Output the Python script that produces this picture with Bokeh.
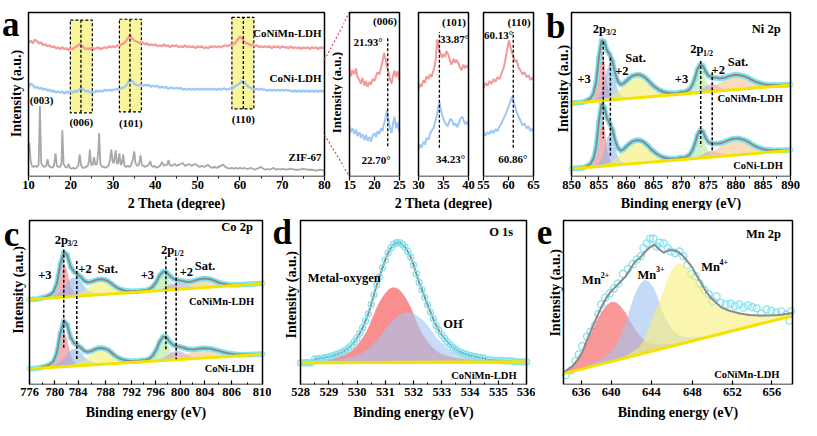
import numpy as np
from bokeh.plotting import figure
from bokeh.models import Range1d, Label, FixedTicker
from bokeh.layouts import row, column
from bokeh.embed import file_html
from bokeh.resources import INLINE

FONT = "Liberation Serif"

# ============================ DATA ============================
# ---- (a) XRD: LDH patterns sampled every 0.5 deg, 10..80 ----
xrd_two_theta = np.arange(10.0, 80.001, 0.5)
xrd_conimn = [139, 141, 138, 142, 140, 138, 139, 136, 137, 135,
              136, 134, 135, 133, 134, 132, 134, 132, 133, 131,
              133, 132, 134, 135, 137, 136, 134, 132, 133, 132,
              134, 132, 133, 134, 132, 133, 134, 133, 135, 134,
              135, 134, 136, 135, 137, 138, 140, 143, 147, 143,
              141, 140, 139, 138, 139, 137, 138, 136, 137, 136,
              137, 135, 136, 135, 137, 135, 136, 134, 136, 135,
              136, 134, 135, 134, 136, 134, 135, 134, 135, 133,
              135, 134, 135, 133, 134, 133, 135, 134, 135, 134,
              135, 134, 135, 136, 135, 136, 137, 137, 139, 142,
              145, 143, 140, 138, 138, 136, 137, 135, 136, 134,
              135, 134, 135, 134, 135, 133, 135, 134, 135, 133,
              135, 134, 134, 133, 135, 133, 134, 133, 134, 132,
              134, 133, 134, 132, 134, 133, 134, 132, 134, 133,
              134]
xrd_coni = [93, 96, 95, 92, 93, 91, 92, 90, 91, 89,
            90, 88, 89, 87, 88, 87, 88, 86, 88, 87,
            88, 87, 89, 88, 90, 92, 90, 88, 89, 87,
            88, 87, 89, 88, 89, 88, 90, 89, 90, 89,
            90, 90, 91, 90, 92, 92, 94, 97, 101, 99,
            96, 95, 94, 95, 94, 95, 94, 95, 93, 94,
            93, 94, 92, 93, 92, 93, 91, 92, 92, 91,
            92, 91, 92, 90, 91, 90, 91, 90, 91, 90,
            91, 90, 91, 90, 91, 90, 91, 90, 91, 90,
            91, 90, 91, 91, 90, 91, 92, 92, 94, 95,
            97, 99, 98, 95, 93, 92, 91, 90, 91, 90,
            91, 90, 90, 89, 90, 89, 90, 89, 90, 89,
            90, 89, 90, 89, 89, 88, 89, 88, 89, 88,
            89, 88, 89, 88, 89, 88, 89, 88, 89, 88,
            89]
zif67 = [(10.0, 30), (10.2, 35), (10.5, 16), (10.8, 11), (11.2, 10), (11.6, 11), (12.0, 10), (12.4, 12),
         (12.7, 73), (13.0, 14), (13.4, 11), (13.8, 10), (14.2, 11), (14.5, 18), (14.8, 11), (15.2, 10),
         (15.6, 9), (16.0, 11), (16.4, 24), (16.7, 11), (17.1, 10), (17.5, 10), (17.8, 14), (18.0, 48),
         (18.3, 13), (18.7, 10), (19.1, 9), (19.5, 13), (19.8, 9), (20.2, 8), (20.6, 9), (21.0, 8),
         (21.4, 9), (21.8, 12), (22.1, 23), (22.4, 12), (22.8, 9), (23.2, 9), (23.6, 10), (24.0, 11),
         (24.3, 16), (24.5, 28), (24.8, 12), (25.2, 12), (25.5, 20), (25.8, 12), (26.2, 13), (26.5, 25),
         (26.7, 45), (27.0, 13), (27.4, 10), (27.8, 10), (28.2, 9), (28.6, 10), (29.0, 12), (29.3, 18),
         (29.6, 28), (29.9, 15), (30.2, 14), (30.6, 27), (30.9, 13), (31.2, 14), (31.5, 24), (31.8, 12),
         (32.1, 14), (32.4, 23), (32.7, 11), (33.1, 10), (33.5, 11), (33.9, 10), (34.3, 12), (34.7, 18),
         (35.0, 26), (35.3, 14), (35.7, 11), (36.1, 12), (36.5, 22), (36.8, 12), (37.2, 11), (37.6, 10),
         (38.0, 11), (38.4, 12), (38.8, 16), (39.1, 11), (39.5, 10), (39.9, 11), (40.3, 9), (40.7, 10),
         (41.1, 11), (41.6, 15), (42.0, 11), (42.4, 12), (42.8, 12), (43.1, 17), (43.4, 12), (43.8, 11),
         (44.2, 12), (44.6, 13), (45.0, 11), (45.5, 12), (46.0, 13), (46.5, 14), (47.0, 11), (47.5, 12),
         (48.0, 13), (48.5, 11), (49.0, 12), (49.5, 13), (50.0, 11), (50.5, 10), (51.0, 11), (51.5, 10),
         (52.0, 11), (52.5, 12), (53.0, 10), (53.5, 9), (54.0, 10), (54.5, 9), (55.0, 10), (55.5, 11),
         (56.0, 12.5), (56.5, 10), (57.0, 9), (57.5, 8), (58.0, 9), (58.5, 8), (59.0, 9), (59.5, 8),
         (60.0, 9), (60.5, 8), (61.0, 9), (61.5, 8), (62.0, 8), (62.5, 9), (63.0, 8), (63.5, 7),
         (64.0, 8), (64.5, 9), (65.0, 10), (65.5, 8), (66.0, 7), (66.5, 8), (67.0, 7), (67.5, 8),
         (68.0, 9), (68.5, 7), (69.0, 8), (69.5, 7), (70.0, 8), (71.0, 7), (72.0, 8), (73.0, 7),
         (74.0, 7), (75.0, 8), (76.0, 7), (77.0, 7), (78.0, 6), (79.0, 7), (80.0, 6)]
xrd_box_left = [19.9, 31.5, 58.1]
xrd_box_right = [25.1, 36.7, 63.3]
xrd_box_bottom = [66, 67, 70]
xrd_box_top = [162, 163, 165]
xrd_peak_lines = [22.4, 34.0, 60.8]
xrd_peak_labels = ["(003)", "(006)", "(101)", "(110)"]
xrd_peak_label_x = [13.1, 22.5, 34.2, 60.8]
xrd_peak_label_y = [79, 56, 55, 60]

# ---- zoomed XRD windows ----
z1_conimn = [(15.0, 112), (15.3, 104), (15.6, 110), (16.0, 106), (16.3, 112), (16.6, 103), (17.0, 100),
             (17.3, 96), (17.6, 102), (18.0, 94), (18.3, 99), (18.6, 93), (19.0, 98), (19.3, 95),
             (19.6, 101), (20.0, 99), (20.3, 104), (20.6, 108), (21.0, 106), (21.3, 113), (21.6, 119),
             (21.9, 128), (22.2, 122), (22.5, 114), (22.8, 108), (23.1, 101), (23.4, 96), (23.7, 104),
             (24.0, 110), (24.3, 103), (24.6, 109), (25.0, 100)]
z1_coni = [(15.0, 52), (15.3, 46), (15.6, 50), (16.0, 44), (16.3, 49), (16.6, 42), (17.0, 46), (17.3, 40),
           (17.6, 44), (18.0, 38), (18.3, 43), (18.6, 37), (19.0, 41), (19.3, 36), (19.6, 42), (20.0, 45),
           (20.3, 41), (20.6, 47), (21.0, 44), (21.3, 50), (21.6, 47), (21.9, 55), (22.2, 60), (22.5, 69),
           (22.8, 58), (23.1, 50), (23.4, 45), (23.7, 55), (24.0, 62), (24.3, 50), (24.6, 56), (25.0, 46)]
z2_conimn = [(30.0, 90), (30.3, 96), (30.6, 93), (31.0, 100), (31.3, 97), (31.6, 104), (32.0, 101),
             (32.3, 106), (32.6, 103), (33.0, 110), (33.3, 116), (33.5, 124), (33.7, 142), (33.9, 138),
             (34.1, 132), (34.4, 128), (34.7, 123), (35.0, 127), (35.3, 124), (35.6, 130), (36.0, 126),
             (36.3, 120), (36.6, 116), (37.0, 122), (37.3, 118), (37.6, 121), (38.0, 117), (38.3, 113),
             (38.6, 110), (39.0, 116), (39.3, 112), (39.6, 115), (40.0, 113)]
z2_coni = [(30.0, 28), (30.3, 33), (30.6, 30), (31.0, 36), (31.3, 33), (31.6, 40), (32.0, 38), (32.3, 44),
           (32.6, 47), (33.0, 50), (33.3, 56), (33.6, 62), (33.9, 70), (34.2, 77), (34.5, 68), (34.8, 63),
           (35.1, 58), (35.4, 55), (35.8, 52), (36.1, 56), (36.4, 60), (36.8, 57), (37.1, 53), (37.4, 55),
           (37.8, 51), (38.1, 56), (38.4, 60), (38.8, 62), (39.1, 57), (39.4, 54), (39.7, 57), (40.0, 54)]
z3_conimn = [(55.0, 92), (55.4, 97), (55.8, 94), (56.2, 99), (56.6, 96), (57.0, 101), (57.4, 98),
             (57.8, 103), (58.2, 101), (58.6, 107), (59.0, 112), (59.3, 119), (59.6, 128), (59.9, 136),
             (60.1, 141), (60.4, 134), (60.7, 128), (61.0, 124), (61.3, 119), (61.6, 121), (62.0, 113),
             (62.4, 110), (62.8, 106), (63.2, 108), (63.6, 103), (64.0, 105), (64.4, 100), (64.8, 103),
             (65.0, 100)]
z3_coni = [(55.0, 47), (55.4, 42), (55.8, 46), (56.2, 44), (56.6, 48), (57.0, 45), (57.4, 49), (57.8, 47),
           (58.2, 52), (58.6, 55), (59.0, 60), (59.4, 64), (59.8, 70), (60.2, 75), (60.5, 80), (60.8, 83),
           (61.1, 76), (61.4, 71), (61.7, 66), (62.0, 62), (62.4, 58), (62.8, 53), (63.2, 55), (63.6, 50),
           (64.0, 52), (64.4, 47), (64.8, 50), (65.0, 47)]
zoom_peak_pos = [22.65, 34.18, 60.95]
zoom_line_bottom = [31.3, 29.7, 29.7]
zoom_line_top = [144.7, 149.7, 149.7]
zoom_hkl = ["(006)", "(101)", "(110)"]
zoom_top_angle = ["21.93\u00b0", "33.87\u00b0", "60.13\u00b0"]
zoom_bottom_angle = ["22.70\u00b0", "34.23\u00b0", "60.86\u00b0"]

# ---- (b) Ni 2p : fitted components (height above background), 0.5 eV steps ----
ni_start = {"red": 852.5, "blue": 853.0, "sat": 854.0, "green": 869.5, "purple": 870.5, "orange": 870.0}
ni_mn_bg = [76.0, 94.8]
ni_mn_red = [0.8, 1.4, 2.6, 5.7, 16.1, 39.5, 52, 39.5, 16.1, 5.7, 2.6, 1.4, 0.8]
ni_mn_blue = [0.6, 0.8, 1.3, 2.3, 4.2, 9.1, 19, 32.7, 38, 32.7, 19, 9.1, 4.2, 2.3, 1.3, 0.8, 0.6]
ni_mn_sat = [1.0, 1.2, 1.4, 1.7, 2.1, 2.6, 3.4, 4.6, 6.2, 8.4, 10.8, 13.7, 17, 19.9, 22.1, 23.5, 24,
             23.5, 22.1, 19.9, 17, 13.7, 10.8, 8.4, 6.2, 4.6, 3.4, 2.6, 2.1, 1.7, 1.4, 1.2, 1.0]
ni_mn_green = [0.4, 0.6, 0.9, 1.5, 2.8, 6, 12.5, 21.5, 25, 21.5, 12.5, 6, 2.8, 1.5, 0.9, 0.6, 0.4]
ni_mn_purple = [0.2, 0.3, 0.4, 0.6, 0.9, 1.4, 2.5, 4, 6.1, 7.4, 8, 7.4, 6.1, 4, 2.5, 1.4, 0.9, 0.6, 0.4, 0.3, 0.2]
ni_mn_orange = [0.5, 0.6, 0.7, 0.8, 0.9, 1.1, 1.4, 1.7, 2.0, 2.6, 3.3, 4.4, 5.4, 6.8, 8.4, 10.2, 11.9, 13.2,
                14.1, 14.8, 15, 14.8, 14.1, 13.2, 11.9, 10.2, 8.4, 6.8, 5.4, 4.4, 3.3, 2.6, 2.0, 1.7, 1.4,
                1.1, 0.9, 0.8, 0.7, 0.6, 0.5]
ni_co_bg = [8.0, 27.0]
ni_co_red = [0.8, 1.5, 2.8, 6.1, 17.1, 41.8, 55, 41.8, 17.1, 6.1, 2.8, 1.5, 0.8]
ni_co_blue = [0.5, 0.7, 1.2, 2.0, 3.7, 8.2, 17, 29.2, 34, 29.2, 17, 8.2, 3.7, 2.0, 1.2, 0.7, 0.5]
ni_co_sat = [1.0, 1.2, 1.4, 1.7, 2.1, 2.6, 3.4, 4.6, 6.2, 8.4, 10.8, 13.7, 17, 19.9, 22.1, 23.5, 24,
             23.5, 22.1, 19.9, 17, 13.7, 10.8, 8.4, 6.2, 4.6, 3.4, 2.6, 2.1, 1.7, 1.4, 1.2, 1.0]
ni_co_green = [0.4, 0.6, 0.9, 1.5, 2.8, 6, 12.5, 21.5, 25, 21.5, 12.5, 6, 2.8, 1.5, 0.9, 0.6, 0.4]
ni_co_purple = [0.2, 0.2, 0.3, 0.5, 0.7, 1.2, 2.0, 3.3, 4.9, 6.0, 6.5, 6.0, 4.9, 3.3, 2.0, 1.2, 0.7, 0.5,
                0.3, 0.2, 0.2]
ni_co_orange = [0.6, 0.7, 0.8, 0.9, 1.1, 1.3, 1.5, 1.9, 2.3, 2.9, 3.7, 4.9, 6.1, 7.7, 9.5, 11.6, 13.4, 15,
                16, 16.7, 17, 16.7, 16, 15, 13.4, 11.6, 9.5, 7.7, 6.1, 4.9, 3.7, 2.9, 2.3, 1.9, 1.5, 1.3,
                1.1, 0.9, 0.8, 0.7, 0.6]
ni_ticks = [850, 855, 860, 865, 870, 875, 880, 885, 890]

# ---- (c) Co 2p ----
co_start = {"red": 778.0, "blue": 777.5, "sat": 780.5, "green": 791.5, "purple": 792.5, "orange": 795.5}
co_mn_bg = [88.0, 104.7]
co_mn_red = [0.5, 1.0, 1.8, 4.0, 11.2, 27.4, 36, 27.4, 11.2, 4.0, 1.8, 1.0, 0.5]
co_mn_blue = [0.5, 0.7, 1.0, 1.5, 2.2, 3.6, 6.2, 10, 15.2, 18.6, 20, 18.6, 15.2, 10, 6.2, 3.6, 2.2, 1.5,
              1.0, 0.7, 0.5]
co_mn_sat = [0.5, 0.7, 0.9, 1.2, 1.7, 2.4, 3.6, 5.1, 7.5, 10.5, 12.9, 14.4, 15, 14.4, 12.9, 10.5, 7.5,
             5.1, 3.6, 2.4, 1.7, 1.2, 0.9, 0.7, 0.5]
co_mn_green = [0.3, 0.4, 0.6, 1.0, 1.9, 4.1, 8.5, 14.6, 17, 14.6, 8.5, 4.1, 1.9, 1.0, 0.6, 0.4, 0.3]
co_mn_purple = [0.2, 0.25, 0.35, 0.5, 0.8, 1.3, 2.2, 3.5, 5.3, 6.5, 7, 6.5, 5.3, 3.5, 2.2, 1.3, 0.8, 0.5,
                0.35, 0.25, 0.2]
co_mn_orange = [0.3, 0.4, 0.5, 0.7, 1.0, 1.4, 2.2, 3.1, 4.5, 6.3, 7.7, 8.6, 9, 8.6, 7.7, 6.3, 4.5, 3.1,
                2.2, 1.4, 1.0, 0.7, 0.5, 0.4, 0.3, 0.26, 0.2, 0.16, 0.14, 0.13]
co_co_bg = [16.3, 31.3]
co_co_red = [0.6, 1.0, 1.9, 4.1, 11.6, 28.5, 37.5, 28.5, 11.6, 4.1, 1.9, 1.0, 0.6]
co_co_blue = [0.5, 0.6, 0.9, 1.4, 2.0, 3.2, 5.6, 9, 13.7, 16.7, 18, 16.7, 13.7, 9, 5.6, 3.2, 2.0, 1.4,
              0.9, 0.6, 0.5]
co_co_sat = [0.5, 0.8, 1.0, 1.3, 1.8, 2.6, 3.8, 5.4, 8, 11.2, 13.8, 15.4, 16, 15.4, 13.8, 11.2, 8, 5.4,
             3.8, 2.6, 1.8, 1.3, 1.0, 0.8, 0.5]
co_co_green = [0.3, 0.5, 0.7, 1.3, 2.3, 5.0, 10.5, 18.1, 21, 18.1, 10.5, 5.0, 2.3, 1.3, 0.7, 0.5, 0.3]
co_co_purple = [0.25, 0.3, 0.45, 0.7, 1.0, 1.6, 2.8, 4.5, 6.8, 8.4, 9, 8.4, 6.8, 4.5, 2.8, 1.6, 1.0, 0.7,
                0.45, 0.3, 0.25]
co_co_orange = [0.8, 1.0, 1.3, 1.8, 2.5, 3.3, 4.3, 5.4, 6.7, 7.9, 8.7, 9.3, 9.5, 9.3, 8.7, 7.9, 6.7, 5.4,
                4.3, 3.3, 2.5, 1.8, 1.3, 1.0, 0.8, 0.7, 0.55, 0.47, 0.38, 0.31]
co_tick_pos = [776, 779.7, 783.1, 787.1, 790.9, 794.4, 798, 801.6, 805.5, 810]
co_tick_labels = ["776", "780", "784", "788", "792", "796", "800", "804", "806", "810"]

# ---- (d) O 1s : components on 0.1 eV steps starting at 528.5 eV ----
o_bg = [22.5, 23.5]
o_metal_oxygen = [2.2, 2.4, 2.7, 3.0, 3.4, 3.7, 4.3, 4.8, 5.6, 6.4, 7.4, 8.6, 10.1, 12.1, 14.8, 17.9, 21.5,
                  25.7, 30.4, 35.9, 42.9, 50.3, 57.3, 62.8, 67.9, 71.8, 75.3, 77.2, 78, 77.2, 75.3, 71.8,
                  67.9, 62.8, 57.3, 50.3, 42.9, 35.9, 30.4, 25.7, 21.5, 17.9, 14.8, 12.1, 10.1, 8.6, 7.4,
                  6.4, 5.6, 4.8, 4.3, 3.7, 3.4, 3.0, 2.7, 2.4, 2.2, 2.0, 1.7, 1.6, 1.5]
o_hydroxide = [1.5, 1.6, 1.7, 1.8, 2.1, 2.3, 2.5, 2.9, 3.1, 3.5, 4.0, 4.4, 5.0, 5.7, 6.5, 7.5, 8.8, 10.4,
               12.5, 14.6, 17.2, 19.8, 22.9, 26, 30.2, 34.3, 38, 41.6, 44.7, 46.8, 48.9, 50.7, 51.6, 52,
               51.6, 50.7, 48.9, 46.8, 44.7, 41.6, 38, 34.3, 30.2, 26, 22.9, 19.8, 17.2, 14.6, 12.5, 10.4,
               8.8, 7.5, 6.5, 5.7, 5.0, 4.4, 4.0, 3.5, 3.1, 2.9, 2.5, 2.3, 2.1, 1.8, 1.7, 1.6, 1.5, 1.3,
               1.1, 1.1, 1.0]

# ---- (e) Mn 2p : components on 0.5 eV steps ----
mn_bg = [11.3, 71.3]
mn2_start, mn3_start, mn4_start = 634.0, 636.5, 638.0
mn2_comp = [1.5, 3, 6, 11, 18, 27, 37, 46, 54, 59.5, 62, 60.1, 54.6, 47.1, 36.6, 27.3, 19.2, 13.3, 9.3, 6.8,
            5.3, 4.0, 3.1, 2.5, 2.0, 1.7, 1.4, 1.2, 1.0, 0.9, 0.85, 0.8, 0.75, 0.7, 0.65, 0.6, 0.6, 0.55,
            0.5, 0.5, 0.5, 0.45, 0.45, 0.4, 0.4, 0.4, 0.35, 0.35, 0.35]
mn3_comp = [2.4, 3.0, 3.9, 5.3, 7.4, 10.3, 15.6, 24.3, 35, 50.9, 64.2, 72.6, 76, 72.6, 64.2, 50.9, 35,
            24.3, 15.6, 10.3, 7.4, 5.3, 3.9, 3.0, 2.4, 1.8, 1.4, 1.2]
mn4_comp = [0.4, 0.5, 0.7, 1.0, 1.5, 2.2, 3.5, 6, 8, 15, 26, 39, 48, 60, 73, 81, 84, 82, 77, 71, 62, 53,
            44, 37, 31.5, 27, 23.5, 20.5, 18, 15.5, 13.5, 11.5, 10, 8.5, 7.2, 6, 5, 4.2, 3.5, 2.9, 2.4]
mn_measured = [(634.25, 9.7), (634.76, 14.7), (635.27, 24.7), (635.61, 31.3), (635.95, 39.7), (636.46, 49.7),
               (636.81, 54.7), (637.32, 61.3), (637.66, 73), (637.94, 83), (638.35, 89.7), (638.86, 94.7),
               (639.30, 99.7), (639.71, 104.7), (640.23, 114.7), (640.74, 119.7), (641.25, 124.7),
               (641.69, 129.7), (642.10, 133), (642.38, 141.3), (642.72, 146.3), (643.07, 151.3),
               (643.41, 151.3), (643.75, 143), (644.09, 147), (644.50, 146.3), (644.91, 141.3),
               (645.25, 138), (645.69, 136.3), (646.14, 138), (646.55, 133), (646.96, 123.7),
               (647.40, 114.7), (647.85, 112.3), (648.26, 104.7), (648.77, 98), (649.22, 93.7),
               (649.63, 86.3), (650.04, 91.3), (650.48, 84.7), (651.0, 83), (651.5, 83.7), (651.95, 81.3),
               (652.43, 83), (652.87, 79.7), (653.32, 82), (653.79, 80.3), (654.24, 79), (654.75, 73.7),
               (655.27, 77.7), (655.78, 76.3), (656.29, 74.7), (656.81, 75.7), (657.32, 72.3),
               (657.66, 66.3), (657.84, 75.7)]
mn_tick_pos = [635.85, 639.0, 643.2, 647.5, 651.7, 655.85]
mn_tick_labels = ["636", "640", "644", "648", "652", "656"]

# ============================ STYLE ============================
C_RED, C_BLUE, C_GREY = "#f59a9a", "#9fc8f6", "#a8a8a8"
F_RED, F_BLUE, F_YEL, F_GRN, F_PUR, F_ORG = "#f67c7c", "#8fb6ec", "#f3ee70", "#b0ea98", "#c49fd6", "#f2c690"
CYAN, ENV, BASE = "#7fe3f0", "#8a8a8a", "#f2e400"
TICK_PX = "12.5px"
TITLE_PX = 14

# reference-pixel boxes (left, right, bottom, x0, x1) used to place texts
FR = {"a": (29, 331, 183, 10, 80), "z1": (357, 408, 183, 15, 25), "b": (583, 807, 183, 850, 890),
      "c": (29.3, 266.7, 398, 776, 810), "d": (305.7, 536.7, 398, 528, 536), "e": (574.3, 808.3, 398, 634, 658)}


def R(k, rx, ry):
    l, r, b, x0, x1 = FR[k]
    return x0 + (rx - l) / (r - l) * (x1 - x0), b - ry


def T(p, x, y, text, size=11.0, align="center", baseline="middle", angle=0.0):
    p.add_layout(Label(x=x, y=y, text=text, text_font=FONT, text_font_style="bold",
                       text_font_size=f"{size}px", text_align=align, text_baseline=baseline,
                       angle=angle, text_color="black"))


def make_fig(box_x, W, bl, bw, bt, bb, ticks, minor, labels=None, inward=False, standoff=0):
    """Plot frame covers the whole canvas except the tick strip below; the data box is drawn as a quad."""
    x0, x1 = box_x
    s = (x1 - x0) / bw
    xr = (x0 - bl * s, x1 + (W - bl - bw) * s)
    yr = (0, 170 + bt * 170.0 / 164.0)
    p = figure(x_range=Range1d(*xr), y_range=Range1d(*yr), frame_width=W, frame_height=bt + 164,
               min_border_left=0, min_border_right=0, min_border_top=0, min_border_bottom=bb,
               y_axis_location=None, toolbar_location=None, tools="", output_backend="svg")
    p.title.visible = False
    p.xgrid.visible = False
    p.ygrid.visible = False
    p.outline_line_color = None
    p.background_fill_color = "white"
    p.border_fill_color = "white"
    ax = p.xaxis[0]
    ax.ticker = FixedTicker(ticks=ticks, minor_ticks=minor)
    if labels is not None:
        ax.major_label_overrides = {t: s_ for t, s_ in zip(ticks, labels)}
    ax.axis_line_color = None
    ax.major_tick_line_color = "black"
    ax.minor_tick_line_color = "black"
    ax.major_tick_line_width = 1.2
    ax.minor_tick_line_width = 1.0
    if inward:
        ax.major_tick_in, ax.major_tick_out, ax.minor_tick_in, ax.minor_tick_out = 4, 0, 2, 0
    else:
        ax.major_tick_in, ax.major_tick_out, ax.minor_tick_in, ax.minor_tick_out = 0, 4, 0, 2
    ax.major_label_standoff = standoff
    ax.major_label_text_font = FONT
    ax.major_label_text_font_style = "bold"
    ax.major_label_text_font_size = TICK_PX
    ax.major_label_text_color = "black"
    return p


def box(p, x0, x1):
    p.quad(left=[x0], right=[x1], bottom=[0], top=[170], fill_color=None, line_color="black", line_width=1.5)


def title_fig(W, H, cx, text):
    f = figure(x_range=Range1d(0, W), y_range=Range1d(0, H), width=W, height=H,
               min_border_left=0, min_border_right=0, min_border_top=0, min_border_bottom=0,
               x_axis_location=None, y_axis_location=None, toolbar_location=None, tools="",
               output_backend="svg")
    f.title.visible = False
    f.outline_line_color = None
    f.xgrid.visible = False
    f.ygrid.visible = False
    T(f, cx, H / 2.0, text, TITLE_PX)
    return f


def draw_fit(p, grid, step, bg, comps, fills, alphas, dots=True, dot_size=5):
    base = np.interp(grid, [grid[0], grid[-1]], bg)
    total = base.copy()
    for (start, vals), col, al in zip(comps, fills, alphas):
        i0 = int(round((start - grid[0]) / step))
        v = np.asarray(vals, dtype=float)
        n = len(v)
        p.varea(x=grid[i0:i0 + n], y1=base[i0:i0 + n], y2=base[i0:i0 + n] + v, fill_color=col, fill_alpha=al)
        total[i0:i0 + n] += v
    if dots:
        p.line(grid, total, line_color=CYAN, line_width=5)
        p.scatter(grid, total, marker="circle", size=dot_size, line_color=CYAN, fill_color=None, line_width=1)
    p.line(grid, total, line_color=ENV, line_width=2)
    p.line([grid[0], grid[-1]], bg, line_color=BASE, line_width=3)
    return total


# ============================ (a) ============================
pa = make_fig((10, 80), 343, 28, 296, 12, 19, [10, 20, 30, 40, 50, 60, 70, 80], [15, 25, 35, 45, 55, 65, 75])
pa.quad(left=xrd_box_left, right=xrd_box_right, bottom=xrd_box_bottom, top=xrd_box_top,
        fill_color="#f8f59c", line_color="black", line_dash="3 2", line_width=1.2)
pa.line(xrd_two_theta, xrd_conimn, line_color=C_RED, line_width=2.3)
pa.line(xrd_two_theta, xrd_coni, line_color=C_BLUE, line_width=2.3)
pa.line([q[0] for q in zif67], [q[1] for q in zif67], line_color=C_GREY, line_width=1.8)
pa.segment(x0=xrd_peak_lines, y0=xrd_box_bottom, x1=xrd_peak_lines, y1=xrd_box_top,
           line_color="black", line_dash="3 2", line_width=1.3)
for t, x, y in zip(xrd_peak_labels, xrd_peak_label_x, xrd_peak_label_y):
    T(pa, x, y, t, 11)
T(pa, 79.3, 149, "CoNiMn-LDH", 11, align="right")
T(pa, 79.3, 102, "CoNi-LDH", 11, align="right")
T(pa, 79.3, 20, "ZIF-67", 11, align="right")
T(pa, *R("a", 2, 25), "a", 35, align="left", baseline="alphabetic")
T(pa, *R("a", 17, 97), "Intensity (a.u.)", TITLE_PX, angle=np.pi / 2)
T(pa, *R("a", 343, 96), "Intensity (a.u.)", 13, angle=np.pi / 2)
box(pa, 10, 80)

# ============================ zoom windows ============================
z1 = make_fig((15, 25), 65, 6, 50, 12, 19, [15, 20, 25], [])
z2 = make_fig((30, 40), 67, 10, 50, 12, 19, [30, 35, 40], [])
z3 = make_fig((55, 65), 65, 8, 50, 12, 19, [55, 60, 65], [])
zoom_figs = [z1, z2, z3]
zoom_red = [z1_conimn, z2_conimn, z3_conimn]
zoom_blue = [z1_coni, z2_coni, z3_coni]
zoom_ranges = [(15, 25), (30, 40), (55, 65)]
for zf, rr, bb_, xp, yb, yt in zip(zoom_figs, zoom_red, zoom_blue, zoom_peak_pos, zoom_line_bottom, zoom_line_top):
    zf.line([q[0] for q in rr], [q[1] for q in rr], line_color=C_RED, line_width=2)
    zf.line([q[0] for q in bb_], [q[1] for q in bb_], line_color=C_BLUE, line_width=2)
    zf.segment(x0=[xp], y0=[yb], x1=[xp], y1=[yt], line_color="black", line_dash="3 2", line_width=1.3)
T(z1, 22.1, 161.3, zoom_hkl[0], 11)
T(z1, 18.7, 139.7, zoom_top_angle[0], 11)
T(z1, 20.33, 17.3, zoom_bottom_angle[0], 11)
T(z2, 37.1, 159.7, zoom_hkl[1], 11)
T(z2, 37.2, 143, zoom_top_angle[1], 11)
T(z2, 36.4, 18, zoom_bottom_angle[1], 11)
T(z3, 62.1, 159.7, zoom_hkl[2], 11)
T(z3, 58.0, 147, zoom_top_angle[2], 11)
T(z3, 60.84, 18, zoom_bottom_angle[2], 11)
# red dashed guides from the main pattern to the first zoom window (split over both canvases)
for fk, fg in (("a", pa), ("z1", z1)):
    s0 = [R(fk, 331, 62), R(fk, 331, 140)]
    s1 = [R(fk, 357, 13), R(fk, 357, 183)]
    fg.segment(x0=[q[0] for q in s0], y0=[q[1] for q in s0], x1=[q[0] for q in s1], y1=[q[1] for q in s1],
               line_color="#d24b4b", line_dash="2 2", line_width=1.2)
for zf, (x0, x1) in zip(zoom_figs, zoom_ranges):
    box(zf, x0, x1)

# ============================ (b) Ni 2p ============================
pb = make_fig((850, 890), 260, 31, 219, 12, 19, ni_ticks,
              [852.5, 857.5, 862.5, 867.5, 872.5, 877.5, 882.5, 887.5])
ni_grid = np.round(np.arange(850.0, 890.001, 0.5), 3)
ni_keys = ["red", "blue", "sat", "green", "purple", "orange"]
ni_fills = [F_RED, F_BLUE, F_YEL, F_GRN, F_PUR, F_ORG]
draw_fit(pb, ni_grid, 0.5, ni_mn_bg,
         [(ni_start[k], v) for k, v in zip(ni_keys, [ni_mn_red, ni_mn_blue, ni_mn_sat, ni_mn_green,
                                                     ni_mn_purple, ni_mn_orange])],
         ni_fills, [0.6] * 6)
draw_fit(pb, ni_grid, 0.5, ni_co_bg,
         [(ni_start[k], v) for k, v in zip(ni_keys, [ni_co_red, ni_co_blue, ni_co_sat, ni_co_green,
                                                     ni_co_purple, ni_co_orange])],
         ni_fills, [0.6] * 6)
pb.segment(x0=[855.8, 857.1, 873.6, 875.7], y0=[139.7, 123, 119.7, 108],
           x1=[855.8, 857.1, 873.6, 875.7], y1=[39.7, 21.3, 31.3, 26.3],
           line_color="black", line_dash="3 2", line_width=1.5)
T(pb, 888.2, 153, "Ni 2p", 12.5, align="right")
T(pb, 853.9, 153, "2p", 12.5, align="left")
T(pb, 856.3, 149, "3/2", 8, align="left")
T(pb, 871.7, 132, "2p", 12.5, align="left")
T(pb, 874.0, 128, "1/2", 8, align="left")
T(pb, 852.3, 101.3, "+3", 12.5)
T(pb, 859.2, 109.7, "+2", 12.5)
T(pb, 861.7, 123, "Sat.", 12.5)
T(pb, 870.1, 101.3, "+3", 12.5)
T(pb, 876.8, 110, "+2", 12.5)
T(pb, 880.4, 119, "Sat.", 12.5)
T(pb, 888.6, 81.3, "CoNiMn-LDH", 10.5, align="right")
T(pb, 888.6, 11.3, "CoNi-LDH", 10.5, align="right")
T(pb, *R("b", 557, 27), "b", 35, align="left", baseline="alphabetic")
T(pb, *R("b", 575, 92), "Intensity (a.u.)", TITLE_PX, angle=np.pi / 2)
box(pb, 850, 890)

# ============================ (c) Co 2p ============================
co_minor = [777.85, 781.4, 785.1, 789.0, 792.65, 796.2, 799.8, 803.55, 807.75]
pc = make_fig((776, 810), 271, 29, 233, 10, 19, co_tick_pos, co_minor, labels=co_tick_labels,
              inward=True, standoff=3)
co_grid = np.round(np.arange(776.0, 810.001, 0.5), 3)
co_keys = ["red", "blue", "sat", "green", "purple", "orange"]
draw_fit(pc, co_grid, 0.5, co_mn_bg,
         [(co_start[k], v) for k, v in zip(co_keys, [co_mn_red, co_mn_blue, co_mn_sat, co_mn_green,
                                                     co_mn_purple, co_mn_orange])],
         ni_fills, [0.6] * 6)
draw_fit(pc, co_grid, 0.5, co_co_bg,
         [(co_start[k], v) for k, v in zip(co_keys, [co_co_red, co_co_blue, co_co_sat, co_co_green,
                                                     co_co_purple, co_co_orange])],
         ni_fills, [0.6] * 6)
pc.segment(x0=[781.0, 782.9, 795.9, 797.4], y0=[139.7, 128, 133, 131.3],
           x1=[781.0, 782.9, 795.9, 797.4], y1=[38, 26.3, 36.3, 26.3],
           line_color="black", line_dash="3 2", line_width=1.5)
T(pc, 808.6, 163, "Co 2p", 12.5, align="right")
T(pc, 779.7, 149.7, "2p", 12.5, align="left")
T(pc, 781.5, 146, "3/2", 8, align="left")
T(pc, 795.2, 139.7, "2p", 12.5, align="left")
T(pc, 797.0, 136, "1/2", 8, align="left")
T(pc, 778.25, 113, "+3", 12.5)
T(pc, 784.1, 119.7, "+2", 12.5)
T(pc, 787.4, 119.7, "Sat.", 12.5)
T(pc, 793.2, 113, "+3", 12.5)
T(pc, 798.9, 116.3, "+2", 12.5)
T(pc, 801.6, 123, "Sat.", 12.5)
T(pc, 808.8, 86.3, "CoNiMn-LDH", 10.5, align="right")
T(pc, 808.8, 16.3, "CoNi-LDH", 10.5, align="right")
T(pc, *R("c", 3, 242), "c", 35, align="left", baseline="alphabetic")
T(pc, *R("c", 18, 300), "Intensity (a.u.)", TITLE_PX, angle=np.pi / 2)
box(pc, 776, 810)

# ============================ (d) O 1s ============================
pd_ = make_fig((528, 536), 264, 29, 226, 10, 19, [528, 529, 530, 531, 532, 533, 534, 535, 536],
               [528.5, 529.5, 530.5, 531.5, 532.5, 533.5, 534.5, 535.5], inward=True, standoff=3)
o_grid = np.round(np.arange(528.0, 536.0001, 0.1), 3)
o_total = draw_fit(pd_, o_grid, 0.1, o_bg, [(528.5, o_metal_oxygen), (528.5, o_hydroxide)],
                   ["#f88282", "#a4c6f2"], [0.9, 0.62], dots=False)
pd_.scatter(o_grid, o_total, marker="circle", size=6, line_color=CYAN, fill_color=None, line_width=1.3)
pd_.line([528, 536], o_bg, line_color=BASE, line_width=3)
T(pd_, 535.53, 158, "O 1s", 12.5, align="right")
T(pd_, 528.26, 110.3, "Metal-oxygen", 12.5, align="left")
T(pd_, 533.05, 63, "OH", 12.5, align="left")
T(pd_, 533.69, 68, "-", 9, align="left")
T(pd_, 535.65, 9.7, "CoNiMn-LDH", 10.5, align="right")
T(pd_, *R("d", 277, 240), "d", 35, align="left", baseline="alphabetic")
T(pd_, *R("d", 296.5, 305), "Intensity (a.u.)", TITLE_PX, angle=np.pi / 2)
box(pd_, 528, 536)

# ============================ (e) Mn 2p ============================
pe = make_fig((634, 658), 266, 28, 229, 10, 19, mn_tick_pos, [], labels=mn_tick_labels,
              inward=True, standoff=3)
mn_grid = np.round(np.arange(634.0, 658.001, 0.5), 3)
pe.scatter([q[0] for q in mn_measured], [q[1] for q in mn_measured], marker="circle", size=7,
           line_color=CYAN, fill_color=None, line_width=1.3)
draw_fit(pe, mn_grid, 0.5, mn_bg, [(mn2_start, mn2_comp), (mn3_start, mn3_comp), (mn4_start, mn4_comp)],
         ["#f78a8a", "#a2c4f2", "#f6f07a"], [0.88, 0.62, 0.6], dots=False)
T(pe, 656.8, 156.3, "Mn 2p", 12.5, align="right")
T(pe, 635.95, 108, "Mn", 12.5, align="left")
T(pe, 637.9, 114, "2+", 8, align="left")
T(pe, 641.76, 113, "Mn", 12.5, align="left")
T(pe, 643.7, 120, "3+", 8, align="left")
T(pe, 648.43, 121.3, "Mn", 12.5, align="left")
T(pe, 650.35, 127.5, "4+", 8, align="left")
T(pe, 656.64, 10.3, "CoNiMn-LDH", 10.5, align="right")
T(pe, *R("e", 547, 240), "e", 35, align="left", baseline="alphabetic")
T(pe, *R("e", 566, 303), "Intensity (a.u.)", TITLE_PX, angle=np.pi / 2)
box(pe, 634, 658)

# ============================ axis titles ============================
ta = title_fig(343, 15, 176, "2 Theta (degree)")
tz = title_fig(197, 15, 100, "2 Theta (degree)")
tb = title_fig(260, 15, 140.5, "Binding energy (eV)")
tc = title_fig(271, 17, 145.5, "Binding energy (eV)")
td = title_fig(264, 17, 142, "Binding energy (eV)")
te = title_fig(266, 17, 142.5, "Binding energy (eV)")

top = row(column(pa, ta), column(row(z1, z2, z3), tz), column(pb, tb))
bottom = row(column(pc, tc), column(pd_, td), column(pe, te))
layout = column(top, bottom)
open("out.html", "w").write(file_html(layout, INLINE))
